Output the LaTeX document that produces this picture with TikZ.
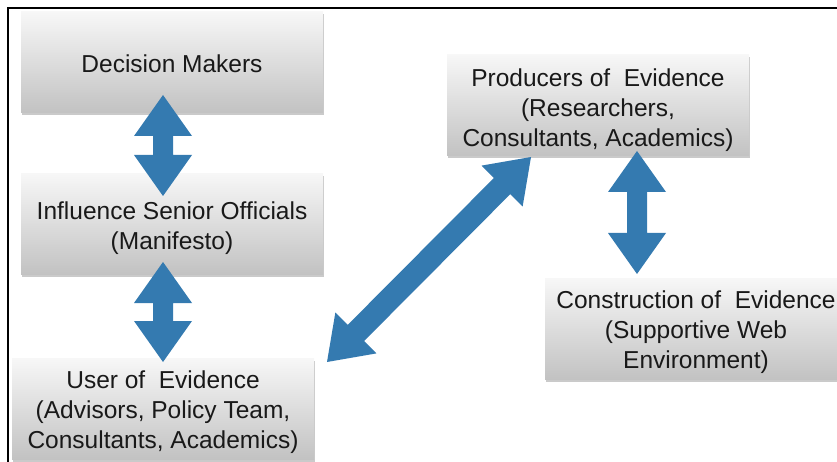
\documentclass[tikz,border=0pt]{standalone}
\usepackage{fontspec}
\setmainfont{Liberation Sans}
\usetikzlibrary{calc,shadows}
\definecolor{arrowblue}{RGB}{52,122,176}
\definecolor{boxtop}{RGB}{247,247,247}
\definecolor{boxbot}{RGB}{194,194,194}
\newcommand\hl{41pt}
\newcommand\hw{29pt}
\newcommand\dblarr[3]{%
  \fill[arrowblue] (#1)
    -- ($(#1)!\hl!(#2)!\hw!90:(#2)$)
    -- ($(#1)!\hl!(#2)!#3!90:(#2)$)
    -- ($(#2)!\hl!(#1)!#3!-90:(#1)$)
    -- ($(#2)!\hl!(#1)!\hw!-90:(#1)$)
    -- (#2)
    -- ($(#2)!\hl!(#1)!\hw!90:(#1)$)
    -- ($(#2)!\hl!(#1)!#3!90:(#1)$)
    -- ($(#1)!\hl!(#2)!#3!-90:(#2)$)
    -- ($(#1)!\hl!(#2)!\hw!-90:(#2)$)
    -- cycle;}
\tikzset{
  box/.style={rectangle, minimum width=302pt, minimum height=101pt, inner sep=0pt,
    top color=boxtop, bottom color=boxbot,
    drop shadow={shadow xshift=1pt, shadow yshift=-2.5pt, opacity=0.35, fill=black!60}},
  boxtext/.style={align=center, text=black!90, inner sep=0pt,
    font=\fontsize{24.5}{30}\selectfont},
  frame/.style={line width=1.6pt, black}
}
\begin{document}
\begin{tikzpicture}[x=1pt,y=-1pt]
\useasboundingbox (0,0) rectangle (837,462);
\draw[frame] (8,470) -- (8,8) -- (845,8);
\node[box] (dm) at (172,62.5) {};
\node[box] (iso) at (172,224) {};
\node[box] (ue) at (163,409) {};
\node[box] (pe) at (598,105.5) {};
\node[box] (ce) at (696,329) {};
\node[boxtext, yshift=-1pt] (dmt) at (dm) {Decision Makers};
\node[boxtext, yshift=-4pt] (isot) at (iso) {Influence Senior Officials\\(Manifesto)};
\node[boxtext, yshift=-3pt] (uet) at (ue) {User of\ \ Evidence\\(Advisors, Policy Team,\\Consultants, Academics)};
\node[boxtext, yshift=-5pt] (pet) at (pe) {Producers of\ \ Evidence\\(Researchers,\\Consultants, Academics)};
\node[boxtext, yshift=-3.5pt] (cet) at (ce) {Construction of\ \ Evidence\\(Supportive Web\\Environment)};
\coordinate (a1s) at (163,95);
\coordinate (a1e) at (163,196);
\coordinate (a2s) at (163,262);
\coordinate (a2e) at (163,362);
\coordinate (a3s) at (637,151);
\coordinate (a3e) at (637,274);
\coordinate (a4s) at (531,157);
\coordinate (a4e) at (327,362);
\dblarr{a1s}{a1e}{10pt}
\dblarr{a2s}{a2e}{10pt}
\dblarr{a3s}{a3e}{10pt}
\dblarr{a4s}{a4e}{11.5pt}
\end{tikzpicture}
\end{document}
